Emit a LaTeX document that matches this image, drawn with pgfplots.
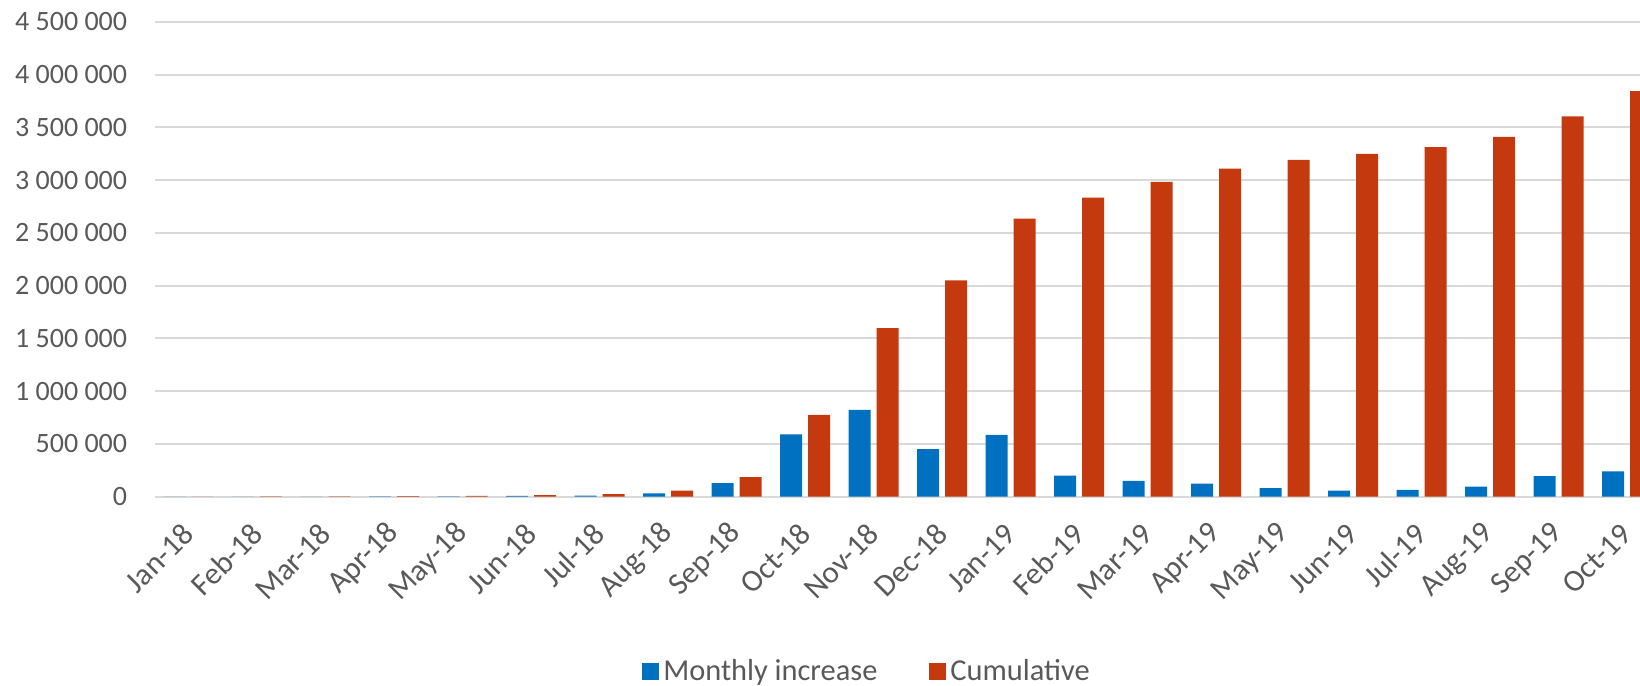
\documentclass[border=0pt]{standalone}
\usepackage{pgfplots}
\pgfplotsset{compat=1.18}
\usepackage{pgfplotstable}
\usepackage{fontspec}
\setmainfont{Carlito}
\definecolor{cblue}{HTML}{0070C0}
\definecolor{cred}{HTML}{C4390E}
\definecolor{tgray}{HTML}{595959}
\definecolor{ggray}{HTML}{D9D9D9}
\pgfplotstableread{
x inc cum
0 300 300
1 1500 2000
2 1000 3000
3 2000 5000
4 3000 8000
5 7000 15000
6 10000 25000
7 32000 57000
8 128000 185000
9 590000 775000
10 823000 1598000
11 452000 2050000
12 585000 2635000
13 200000 2835000
14 150000 2985000
15 125000 3110000
16 82000 3192000
17 58000 3250000
18 65000 3315000
19 95000 3410000
20 195000 3605000
21 240000 3845000
}\data
\begin{document}
\begin{tikzpicture}[x=1pt,y=1pt]
\useasboundingbox (0,0) rectangle (820,343);
\begin{axis}[
  at={(77.25pt,94.65pt)}, anchor=south west,
  scale only axis, width=742.75pt, height=237.35pt,
  xmin=-0.5, xmax=21.19, ymin=0, ymax=4500000,
  ytick={0,500000,1000000,1500000,2000000,2500000,3000000,3500000,4000000,4500000},
  xtick={0,1,2,3,4,5,6,7,8,9,10,11,12,13,14,15,16,17,18,19,20,21},
  xticklabels={Jan-18,Feb-18,Mar-18,Apr-18,May-18,Jun-18,Jul-18,Aug-18,Sep-18,Oct-18,Nov-18,Dec-18,Jan-19,Feb-19,Mar-19,Apr-19,May-19,Jun-19,Jul-19,Aug-19,Sep-19,Oct-19},
  axis line style={draw=none},
  major tick length=0pt,
  ymajorgrids, grid style={ggray, line width=1pt},
  scaled y ticks=false,
  /pgf/number format/fixed,
  /pgf/number format/1000 sep={\ },
  /pgf/number format/assume math mode=true,
  yticklabel style={inner sep=0pt, anchor=east, xshift=-13.5pt, font=\fontsize{14}{16}\selectfont},
  xticklabel shift=16pt,
  xticklabel style={rotate=45, anchor=east, inner sep=0pt, font=\fontsize{15.5}{17}\selectfont},
  tick label style={text=tgray},
  legend style={at={(0.4803,-0.369)}, anchor=center, draw=none, fill=none,
    legend columns=2, font=\fontsize{15.2}{17}\selectfont, text=tgray,
    /tikz/every even column/.append style={column sep=24pt}, inner sep=0pt},
  legend image code/.code={\fill[#1] (0pt,-4.25pt) rectangle (8.5pt,4.25pt);},
]
\addplot[ybar, fill=cblue, draw=none, bar width=11pt, bar shift=-7pt] table[x=x, y=inc] {\data};
\addplot[ybar, fill=cred, draw=none, bar width=11pt, bar shift=7pt] table[x=x, y=cum] {\data};
\legend{Monthly increase, Cumulative}
\end{axis}
\end{tikzpicture}
\end{document}
